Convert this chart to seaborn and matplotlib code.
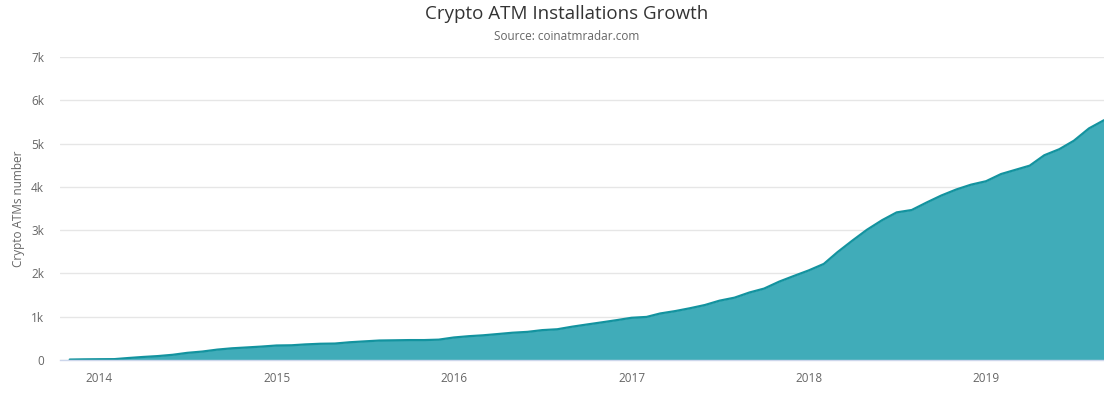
import numpy as np
import pandas as pd
import seaborn as sns
import matplotlib.pyplot as plt
import matplotlib.dates as mdates
from matplotlib.ticker import FuncFormatter

# monthly crypto ATM count, Nov 2013 .. Sep 2019
months = pd.date_range('2013-11-01', '2019-09-01', freq='MS')
atm_counts = [10, 15, 18, 20, 45, 70, 90, 120, 165, 195, 240, 270, 290, 310,
              335, 340, 360, 375, 380, 410, 430, 450, 455, 460, 460, 470,
              520, 550, 570, 600, 630, 650, 690, 710, 770, 820, 870, 920,
              975, 995, 1075, 1130, 1195, 1270, 1370, 1440, 1560, 1650, 1810, 1940,
              2070, 2220, 2490, 2760, 3010, 3230, 3410, 3465, 3640, 3800, 3940, 4050,
              4130, 4296, 4388, 4490, 4730, 4870, 5066, 5350, 5540]
year_ticks = pd.to_datetime(['2014', '2015', '2016', '2017', '2018', '2019'])
y_ticks = [0, 1000, 2000, 3000, 4000, 5000, 6000, 7000]

df = pd.DataFrame({'month': months, 'atms': atm_counts})

sns.set_style('white')
plt.rcParams['font.family'] = ['Open Sans', 'DejaVu Sans']

fig = plt.figure(figsize=(11.04, 3.95), dpi=100)
ax = fig.add_axes([60 / 1104, 1 - 360 / 395, 1 - 60 / 1104, (360 - 57) / 395])

fill_col = '#40acb9'
line_col = '#13939f'
ax.fill_between(df['month'], df['atms'], color=fill_col, lw=0, zorder=2)
sns.lineplot(data=df, x='month', y='atms', ax=ax, color=line_col, lw=1.6, zorder=3)

ax.set_xlim(months[0] - pd.Timedelta(days=20), months[-1])
ax.set_ylim(0, 7000)
ax.set_yticks(y_ticks)
ax.yaxis.set_major_formatter(FuncFormatter(lambda v, p: '0' if v == 0 else f'{int(v / 1000)}k'))
ax.set_xticks(year_ticks)
ax.xaxis.set_major_formatter(mdates.DateFormatter('%Y'))

ax.grid(axis='y', color='#e6e6e6', lw=1, zorder=0)
ax.grid(axis='x', visible=False)
for s in ['top', 'right', 'left']:
    ax.spines[s].set_visible(False)
ax.spines['bottom'].set_color('#ccd6eb')
ax.spines['bottom'].set_linewidth(1)
ax.spines['bottom'].set_zorder(4)

ax.tick_params(axis='x', colors='#ccd6eb', length=7, width=1, labelcolor='#666666',
               labelsize=8.5, pad=1.5)
ax.tick_params(axis='y', length=0, labelcolor='#666666', labelsize=8.5, pad=11.5)

ax.set_xlabel('')
ax.set_ylabel('Crypto ATMs number', color='#666666', fontsize=8.5, labelpad=4)

fig.text(567 / 1104, 1 - 14 / 395, 'Crypto ATM Installations Growth', ha='center', va='center',
         fontsize=13.5, color='#333333')
fig.text(567 / 1104, 1 - 36 / 395, 'Source: coinatmradar.com', ha='center', va='center',
         fontsize=8.5, color='#666666')

fig.savefig('out.png', dpi=100)
